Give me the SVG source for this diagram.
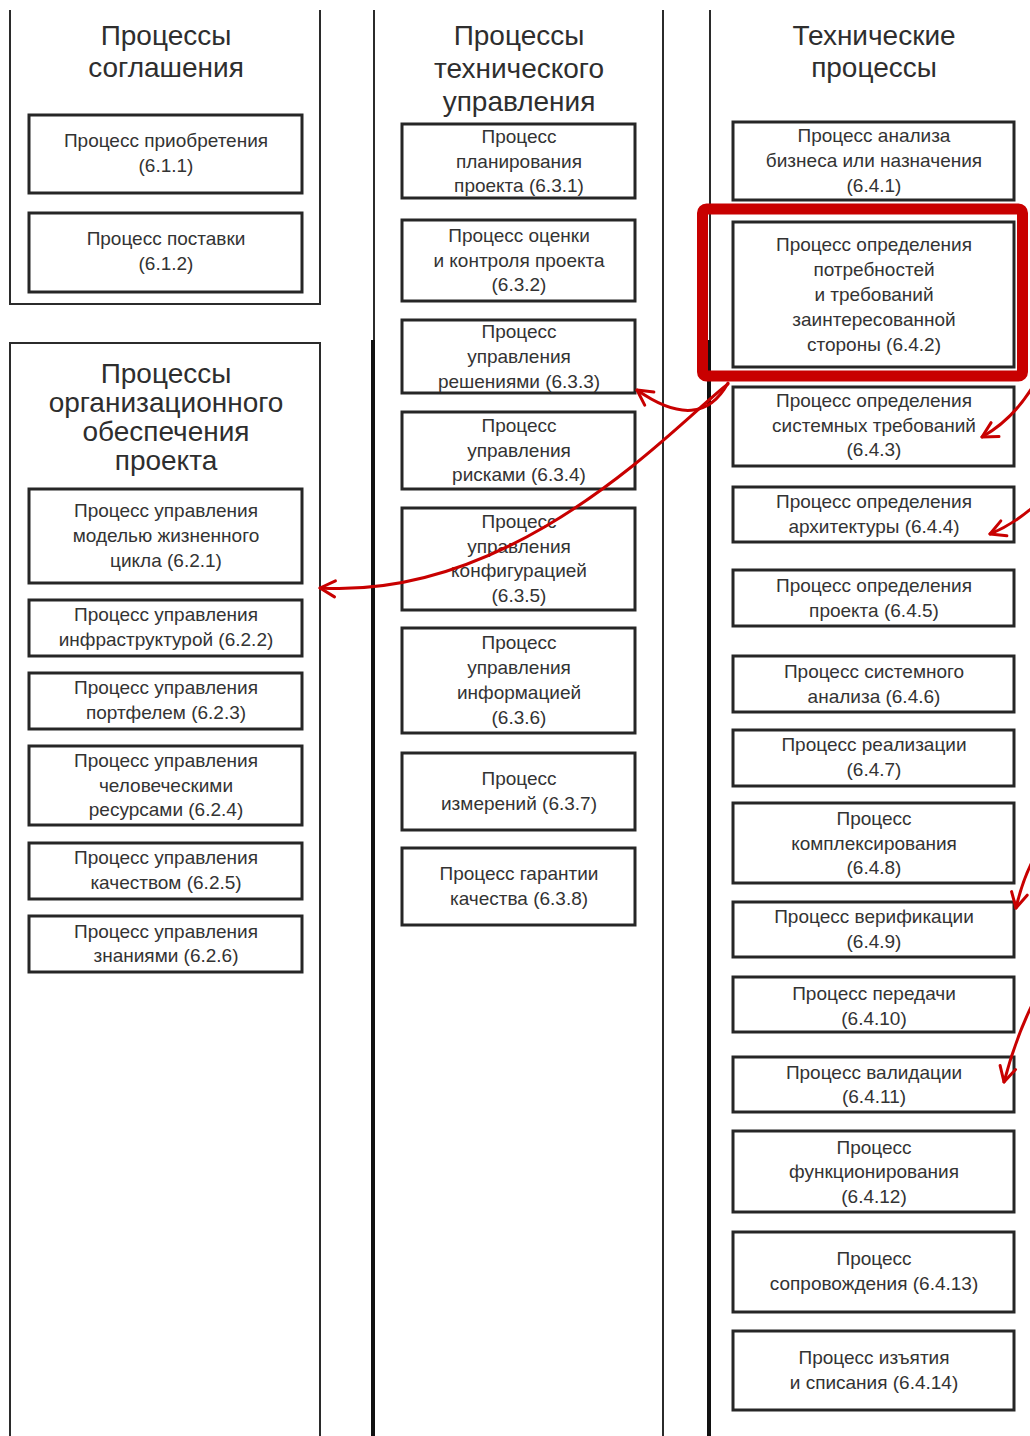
<svg xmlns="http://www.w3.org/2000/svg" width="1030" height="1436" viewBox="0 0 1030 1436">
  <style>
    .bg { fill: #ffffff; }
    .frame { fill: none; stroke: #2b2b2b; stroke-width: 2; }
    .frame-thick { fill: none; stroke: #111111; stroke-width: 4; }
    .box { fill: #ffffff; stroke: #262626; stroke-width: 3; }
    .title { font-family: "Liberation Sans", Arial, sans-serif; font-size: 28px; fill: #2e2e2e; text-anchor: middle; }
    .lbl { font-family: "Liberation Sans", Arial, sans-serif; font-size: 19px; fill: #333333; text-anchor: middle; }
    .hl { fill: none; stroke: #c80000; stroke-width: 11; }
    .link { fill: none; stroke: #c80000; stroke-width: 3; stroke-linecap: round; }
  </style>
  <defs>
    <marker id="ah" viewBox="-18 -11 20 22" refX="0" refY="0" markerWidth="20" markerHeight="22" markerUnits="userSpaceOnUse" orient="auto">
      <path d="M-15,-8 L0,0 L-15,8" fill="none" stroke="#c80000" stroke-width="3" stroke-linecap="round" stroke-linejoin="round"/>
    </marker>
  </defs>

  <rect class="bg" x="0" y="0" width="1030" height="1436"/>

  <!-- Column frames -->
  <g id="frames">
    <path class="frame" d="M10,10 V304 H320 V10"/>
    <path class="frame" d="M10,1436 V343 H320 V1436"/>
    <line class="frame" x1="374" y1="10" x2="374" y2="340"/>
    <line class="frame-thick" x1="373" y1="340" x2="373" y2="1436"/>
    <line class="frame" x1="663" y1="10" x2="663" y2="1436"/>
    <line class="frame" x1="710" y1="10" x2="710" y2="340"/>
    <line class="frame-thick" x1="709" y1="340" x2="709" y2="1436"/>
  </g>

  <!-- Group titles -->
  <g id="titles">
    <text class="title" x="166" y="45">Процессы</text>
    <text class="title" x="166" y="77">соглашения</text>
    <text class="title" x="166" y="383">Процессы</text>
    <text class="title" x="166" y="412">организационного</text>
    <text class="title" x="166" y="441">обеспечения</text>
    <text class="title" x="166" y="470">проекта</text>
    <text class="title" x="519" y="45">Процессы</text>
    <text class="title" x="519" y="78">технического</text>
    <text class="title" x="519" y="111">управления</text>
    <text class="title" x="874" y="45">Технические</text>
    <text class="title" x="874" y="77">процессы</text>
  </g>

  <!-- Agreement processes -->
  <g id="p611"><rect class="box" x="29" y="115" width="273" height="78"/>
    <text class="lbl" x="166" y="147">Процесс приобретения</text><text class="lbl" x="166" y="172">(6.1.1)</text></g>
  <g id="p612"><rect class="box" x="29" y="213" width="273" height="79"/>
    <text class="lbl" x="166" y="245">Процесс поставки</text><text class="lbl" x="166" y="270">(6.1.2)</text></g>

  <!-- Organizational project-enabling processes -->
  <g id="p621"><rect class="box" x="29" y="489" width="273" height="94"/>
    <text class="lbl" x="166" y="517">Процесс управления</text><text class="lbl" x="166" y="542">моделью жизненного</text><text class="lbl" x="166" y="567">цикла (6.2.1)</text></g>
  <g id="p622"><rect class="box" x="29" y="600" width="273" height="56"/>
    <text class="lbl" x="166" y="621">Процесс управления</text><text class="lbl" x="166" y="646">инфраструктурой (6.2.2)</text></g>
  <g id="p623"><rect class="box" x="29" y="673" width="273" height="56"/>
    <text class="lbl" x="166" y="694">Процесс управления</text><text class="lbl" x="166" y="719">портфелем (6.2.3)</text></g>
  <g id="p624"><rect class="box" x="29" y="746" width="273" height="79"/>
    <text class="lbl" x="166" y="767">Процесс управления</text><text class="lbl" x="166" y="792">человеческими</text><text class="lbl" x="166" y="816">ресурсами (6.2.4)</text></g>
  <g id="p625"><rect class="box" x="29" y="843" width="273" height="56"/>
    <text class="lbl" x="166" y="864">Процесс управления</text><text class="lbl" x="166" y="889">качеством (6.2.5)</text></g>
  <g id="p626"><rect class="box" x="29" y="916" width="273" height="56"/>
    <text class="lbl" x="166" y="938">Процесс управления</text><text class="lbl" x="166" y="962">знаниями (6.2.6)</text></g>

  <!-- Technical management processes -->
  <g id="p631"><rect class="box" x="402" y="124" width="233" height="74"/>
    <text class="lbl" x="519" y="143">Процесс</text><text class="lbl" x="519" y="168">планирования</text><text class="lbl" x="519" y="192">проекта (6.3.1)</text></g>
  <g id="p632"><rect class="box" x="402" y="220" width="233" height="81"/>
    <text class="lbl" x="519" y="242">Процесс оценки</text><text class="lbl" x="519" y="267">и контроля проекта</text><text class="lbl" x="519" y="291">(6.3.2)</text></g>
  <g id="p633"><rect class="box" x="402" y="320" width="233" height="73"/>
    <text class="lbl" x="519" y="338">Процесс</text><text class="lbl" x="519" y="363">управления</text><text class="lbl" x="519" y="388">решениями (6.3.3)</text></g>
  <g id="p634"><rect class="box" x="402" y="412" width="233" height="77"/>
    <text class="lbl" x="519" y="432">Процесс</text><text class="lbl" x="519" y="457">управления</text><text class="lbl" x="519" y="481">рисками (6.3.4)</text></g>
  <g id="p635"><rect class="box" x="402" y="508" width="233" height="102"/>
    <text class="lbl" x="519" y="528">Процесс</text><text class="lbl" x="519" y="553">управления</text><text class="lbl" x="519" y="577">конфигурацией</text><text class="lbl" x="519" y="602">(6.3.5)</text></g>
  <g id="p636"><rect class="box" x="402" y="628" width="233" height="105"/>
    <text class="lbl" x="519" y="649">Процесс</text><text class="lbl" x="519" y="674">управления</text><text class="lbl" x="519" y="699">информацией</text><text class="lbl" x="519" y="724">(6.3.6)</text></g>
  <g id="p637"><rect class="box" x="402" y="753" width="233" height="77"/>
    <text class="lbl" x="519" y="785">Процесс</text><text class="lbl" x="519" y="810">измерений (6.3.7)</text></g>
  <g id="p638"><rect class="box" x="402" y="848" width="233" height="77"/>
    <text class="lbl" x="519" y="880">Процесс гарантии</text><text class="lbl" x="519" y="905">качества (6.3.8)</text></g>

  <!-- Technical processes -->
  <g id="p641"><rect class="box" x="733" y="122" width="281" height="78"/>
    <text class="lbl" x="874" y="142">Процесс анализа</text><text class="lbl" x="874" y="167">бизнеса или назначения</text><text class="lbl" x="874" y="192">(6.4.1)</text></g>
  <g id="p642"><rect class="box" x="733" y="222" width="281" height="145"/>
    <text class="lbl" x="874" y="251">Процесс определения</text><text class="lbl" x="874" y="276">потребностей</text><text class="lbl" x="874" y="301">и требований</text><text class="lbl" x="874" y="326">заинтересованной</text><text class="lbl" x="874" y="351">стороны (6.4.2)</text></g>
  <g id="p643"><rect class="box" x="733" y="387" width="281" height="79"/>
    <text class="lbl" x="874" y="407">Процесс определения</text><text class="lbl" x="874" y="432">системных требований</text><text class="lbl" x="874" y="456">(6.4.3)</text></g>
  <g id="p644"><rect class="box" x="733" y="487" width="281" height="55"/>
    <text class="lbl" x="874" y="508">Процесс определения</text><text class="lbl" x="874" y="533">архитектуры (6.4.4)</text></g>
  <g id="p645"><rect class="box" x="733" y="570" width="281" height="56"/>
    <text class="lbl" x="874" y="592">Процесс определения</text><text class="lbl" x="874" y="617">проекта (6.4.5)</text></g>
  <g id="p646"><rect class="box" x="733" y="656" width="281" height="56"/>
    <text class="lbl" x="874" y="678">Процесс системного</text><text class="lbl" x="874" y="703">анализа (6.4.6)</text></g>
  <g id="p647"><rect class="box" x="733" y="730" width="281" height="56"/>
    <text class="lbl" x="874" y="751">Процесс реализации</text><text class="lbl" x="874" y="776">(6.4.7)</text></g>
  <g id="p648"><rect class="box" x="733" y="803" width="281" height="80"/>
    <text class="lbl" x="874" y="825">Процесс</text><text class="lbl" x="874" y="850">комплексирования</text><text class="lbl" x="874" y="874">(6.4.8)</text></g>
  <g id="p649"><rect class="box" x="733" y="902" width="281" height="55"/>
    <text class="lbl" x="874" y="923">Процесс верификации</text><text class="lbl" x="874" y="948">(6.4.9)</text></g>
  <g id="p6410"><rect class="box" x="733" y="977" width="281" height="55"/>
    <text class="lbl" x="874" y="1000">Процесс передачи</text><text class="lbl" x="874" y="1025">(6.4.10)</text></g>
  <g id="p6411"><rect class="box" x="733" y="1057" width="281" height="55"/>
    <text class="lbl" x="874" y="1079">Процесс валидации</text><text class="lbl" x="874" y="1103">(6.4.11)</text></g>
  <g id="p6412"><rect class="box" x="733" y="1131" width="281" height="81"/>
    <text class="lbl" x="874" y="1154">Процесс</text><text class="lbl" x="874" y="1178">функционирования</text><text class="lbl" x="874" y="1203">(6.4.12)</text></g>
  <g id="p6413"><rect class="box" x="733" y="1232" width="281" height="80"/>
    <text class="lbl" x="874" y="1265">Процесс</text><text class="lbl" x="874" y="1290">сопровождения (6.4.13)</text></g>
  <g id="p6414"><rect class="box" x="733" y="1331" width="281" height="79"/>
    <text class="lbl" x="874" y="1364">Процесс изъятия</text><text class="lbl" x="874" y="1389">и списания (6.4.14)</text></g>

  <!-- Highlight around 6.4.2 -->
  <g id="highlight">
    <rect class="hl" x="702.5" y="209" width="320" height="167" rx="4"/>
  </g>

  <!-- Connectors -->
  <g id="connectors">
    <path class="link" d="M728,383 Q700,434 637,390" marker-end="url(#ah)"/>
    <path class="link" d="M728,384 C680,420 520,600 320,588" marker-end="url(#ah)"/>
    <path class="link" d="M1032,388 Q1012,420 982,437" marker-end="url(#ah)"/>
    <path class="link" d="M1032,508 Q1012,525 990,534" marker-end="url(#ah)"/>
    <path class="link" d="M1032,862 Q1022,882 1016,908" marker-end="url(#ah)"/>
    <path class="link" d="M1032,1005 Q1015,1040 1004,1082" marker-end="url(#ah)"/>
  </g>
</svg>
